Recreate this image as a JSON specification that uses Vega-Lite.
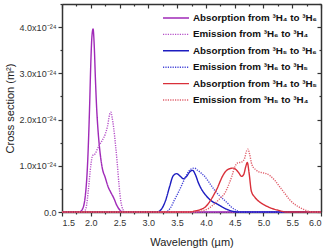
{
  "$schema": "https://vega.github.io/schema/vega-lite/v6.json",
  "width": 259,
  "height": 208,
  "padding": {"left": 62, "top": 4, "right": 5, "bottom": 38},
  "autosize": {"type": "none"},
  "background": "white",
  "config": {
    "font": "Liberation Sans",
    "view": {"stroke": null},
    "axis": {"domainColor": "#333333", "domainWidth": 1.5, "tickColor": "#333333", "tickWidth": 1.2, "labelColor": "#333333", "labelFontSize": 9, "titleColor": "#222222", "titleFontSize": 11, "titleFontWeight": "normal", "gridColor": "#e6e6e6", "gridWidth": 0.8}
  },
  "data": {"values": [
    {"series": "Absorption from ³H₄ to ³H₆", "x": 1.5, "y": 0},
    {"series": "Absorption from ³H₄ to ³H₆", "x": 1.8, "y": 0},
    {"series": "Absorption from ³H₄ to ³H₆", "x": 1.85, "y": 0.05},
    {"series": "Absorption from ³H₄ to ³H₆", "x": 1.9, "y": 0.3},
    {"series": "Absorption from ³H₄ to ³H₆", "x": 1.95, "y": 1.2},
    {"series": "Absorption from ³H₄ to ³H₆", "x": 1.98, "y": 2.3},
    {"series": "Absorption from ³H₄ to ³H₆", "x": 2.0, "y": 3.2},
    {"series": "Absorption from ³H₄ to ³H₆", "x": 2.02, "y": 3.8},
    {"series": "Absorption from ³H₄ to ³H₆", "x": 2.04, "y": 3.96},
    {"series": "Absorption from ³H₄ to ³H₆", "x": 2.06, "y": 3.6},
    {"series": "Absorption from ³H₄ to ³H₆", "x": 2.08, "y": 2.9},
    {"series": "Absorption from ³H₄ to ³H₆", "x": 2.1, "y": 2.3},
    {"series": "Absorption from ³H₄ to ³H₆", "x": 2.13, "y": 1.7},
    {"series": "Absorption from ³H₄ to ³H₆", "x": 2.16, "y": 1.3},
    {"series": "Absorption from ³H₄ to ³H₆", "x": 2.2, "y": 0.95},
    {"series": "Absorption from ³H₄ to ³H₆", "x": 2.25, "y": 0.75},
    {"series": "Absorption from ³H₄ to ³H₆", "x": 2.3, "y": 0.55},
    {"series": "Absorption from ³H₄ to ³H₆", "x": 2.35, "y": 0.42},
    {"series": "Absorption from ³H₄ to ³H₆", "x": 2.4, "y": 0.3},
    {"series": "Absorption from ³H₄ to ³H₆", "x": 2.45, "y": 0.15},
    {"series": "Absorption from ³H₄ to ³H₆", "x": 2.5, "y": 0.05},
    {"series": "Absorption from ³H₄ to ³H₆", "x": 2.55, "y": 0},
    {"series": "Absorption from ³H₄ to ³H₆", "x": 6.0, "y": 0},

    {"series": "Emission from ³H₆ to ³H₄", "x": 1.5, "y": 0},
    {"series": "Emission from ³H₆ to ³H₄", "x": 1.88, "y": 0},
    {"series": "Emission from ³H₆ to ³H₄", "x": 1.92, "y": 0.1},
    {"series": "Emission from ³H₆ to ³H₄", "x": 1.96, "y": 0.5},
    {"series": "Emission from ³H₆ to ³H₄", "x": 2.0, "y": 1.0},
    {"series": "Emission from ³H₆ to ³H₄", "x": 2.03, "y": 1.22},
    {"series": "Emission from ³H₆ to ³H₄", "x": 2.07, "y": 1.25},
    {"series": "Emission from ³H₆ to ³H₄", "x": 2.11, "y": 1.35},
    {"series": "Emission from ³H₆ to ³H₄", "x": 2.15, "y": 1.45},
    {"series": "Emission from ³H₆ to ³H₄", "x": 2.2, "y": 1.55},
    {"series": "Emission from ³H₆ to ³H₄", "x": 2.25, "y": 1.68},
    {"series": "Emission from ³H₆ to ³H₄", "x": 2.29, "y": 1.85},
    {"series": "Emission from ³H₆ to ³H₄", "x": 2.33, "y": 2.12},
    {"series": "Emission from ³H₆ to ³H₄", "x": 2.35, "y": 2.16},
    {"series": "Emission from ³H₆ to ³H₄", "x": 2.37, "y": 2.05},
    {"series": "Emission from ³H₆ to ³H₄", "x": 2.4, "y": 1.8},
    {"series": "Emission from ³H₆ to ³H₄", "x": 2.43, "y": 1.45},
    {"series": "Emission from ³H₆ to ³H₄", "x": 2.46, "y": 1.05},
    {"series": "Emission from ³H₆ to ³H₄", "x": 2.49, "y": 0.6},
    {"series": "Emission from ³H₆ to ³H₄", "x": 2.52, "y": 0.25},
    {"series": "Emission from ³H₆ to ³H₄", "x": 2.56, "y": 0.05},
    {"series": "Emission from ³H₆ to ³H₄", "x": 2.6, "y": 0},
    {"series": "Emission from ³H₆ to ³H₄", "x": 6.0, "y": 0},

    {"series": "Absorption from ³H₅ to ³H₆", "x": 1.5, "y": 0},
    {"series": "Absorption from ³H₅ to ³H₆", "x": 3.15, "y": 0},
    {"series": "Absorption from ³H₅ to ³H₆", "x": 3.22, "y": 0.05},
    {"series": "Absorption from ³H₅ to ³H₆", "x": 3.3, "y": 0.25},
    {"series": "Absorption from ³H₅ to ³H₆", "x": 3.37, "y": 0.55},
    {"series": "Absorption from ³H₅ to ³H₆", "x": 3.43, "y": 0.78},
    {"series": "Absorption from ³H₅ to ³H₆", "x": 3.49, "y": 0.83},
    {"series": "Absorption from ³H₅ to ³H₆", "x": 3.55, "y": 0.78},
    {"series": "Absorption from ³H₅ to ³H₆", "x": 3.61, "y": 0.72},
    {"series": "Absorption from ³H₅ to ³H₆", "x": 3.67, "y": 0.78},
    {"series": "Absorption from ³H₅ to ³H₆", "x": 3.72, "y": 0.87},
    {"series": "Absorption from ³H₅ to ³H₆", "x": 3.77, "y": 0.9},
    {"series": "Absorption from ³H₅ to ³H₆", "x": 3.82, "y": 0.8},
    {"series": "Absorption from ³H₅ to ³H₆", "x": 3.87, "y": 0.63},
    {"series": "Absorption from ³H₅ to ³H₆", "x": 3.93, "y": 0.48},
    {"series": "Absorption from ³H₅ to ³H₆", "x": 4.0, "y": 0.36},
    {"series": "Absorption from ³H₅ to ³H₆", "x": 4.05, "y": 0.29},
    {"series": "Absorption from ³H₅ to ³H₆", "x": 4.12, "y": 0.22},
    {"series": "Absorption from ³H₅ to ³H₆", "x": 4.2, "y": 0.17},
    {"series": "Absorption from ³H₅ to ³H₆", "x": 4.28, "y": 0.11},
    {"series": "Absorption from ³H₅ to ³H₆", "x": 4.36, "y": 0.06},
    {"series": "Absorption from ³H₅ to ³H₆", "x": 4.45, "y": 0.02},
    {"series": "Absorption from ³H₅ to ³H₆", "x": 4.55, "y": 0},
    {"series": "Absorption from ³H₅ to ³H₆", "x": 6.0, "y": 0},

    {"series": "Emission from ³H₆ to ³H₅", "x": 1.5, "y": 0},
    {"series": "Emission from ³H₆ to ³H₅", "x": 3.3, "y": 0},
    {"series": "Emission from ³H₆ to ³H₅", "x": 3.38, "y": 0.08},
    {"series": "Emission from ³H₆ to ³H₅", "x": 3.45, "y": 0.25},
    {"series": "Emission from ³H₆ to ³H₅", "x": 3.52, "y": 0.42},
    {"series": "Emission from ³H₆ to ³H₅", "x": 3.58, "y": 0.58},
    {"series": "Emission from ³H₆ to ³H₅", "x": 3.64, "y": 0.74},
    {"series": "Emission from ³H₆ to ³H₅", "x": 3.7, "y": 0.88},
    {"series": "Emission from ³H₆ to ³H₅", "x": 3.76, "y": 0.94},
    {"series": "Emission from ³H₆ to ³H₅", "x": 3.8, "y": 0.95},
    {"series": "Emission from ³H₆ to ³H₅", "x": 3.86, "y": 0.9},
    {"series": "Emission from ³H₆ to ³H₅", "x": 3.92, "y": 0.84},
    {"series": "Emission from ³H₆ to ³H₅", "x": 3.98, "y": 0.77},
    {"series": "Emission from ³H₆ to ³H₅", "x": 4.05, "y": 0.65},
    {"series": "Emission from ³H₆ to ³H₅", "x": 4.1, "y": 0.56},
    {"series": "Emission from ³H₆ to ³H₅", "x": 4.16, "y": 0.46},
    {"series": "Emission from ³H₆ to ³H₅", "x": 4.23, "y": 0.36},
    {"series": "Emission from ³H₆ to ³H₅", "x": 4.3, "y": 0.28},
    {"series": "Emission from ³H₆ to ³H₅", "x": 4.37, "y": 0.2},
    {"series": "Emission from ³H₆ to ³H₅", "x": 4.44, "y": 0.11},
    {"series": "Emission from ³H₆ to ³H₅", "x": 4.52, "y": 0.04},
    {"series": "Emission from ³H₆ to ³H₅", "x": 4.6, "y": 0},
    {"series": "Emission from ³H₆ to ³H₅", "x": 6.0, "y": 0},

    {"series": "Absorption from ³H₄ to ³H₅", "x": 1.5, "y": 0},
    {"series": "Absorption from ³H₄ to ³H₅", "x": 3.7, "y": 0},
    {"series": "Absorption from ³H₄ to ³H₅", "x": 3.8, "y": 0.02},
    {"series": "Absorption from ³H₄ to ³H₅", "x": 3.9, "y": 0.05},
    {"series": "Absorption from ³H₄ to ³H₅", "x": 4.0, "y": 0.12},
    {"series": "Absorption from ³H₄ to ³H₅", "x": 4.08, "y": 0.25},
    {"series": "Absorption from ³H₄ to ³H₅", "x": 4.15, "y": 0.4},
    {"series": "Absorption from ³H₄ to ³H₅", "x": 4.2, "y": 0.52},
    {"series": "Absorption from ³H₄ to ³H₅", "x": 4.25, "y": 0.67},
    {"series": "Absorption from ³H₄ to ³H₅", "x": 4.3, "y": 0.8},
    {"series": "Absorption from ³H₄ to ³H₅", "x": 4.36, "y": 0.9},
    {"series": "Absorption from ³H₄ to ³H₅", "x": 4.42, "y": 0.94},
    {"series": "Absorption from ³H₄ to ³H₅", "x": 4.47, "y": 0.95},
    {"series": "Absorption from ³H₄ to ³H₅", "x": 4.52, "y": 0.92},
    {"series": "Absorption from ³H₄ to ³H₅", "x": 4.57, "y": 0.85},
    {"series": "Absorption from ³H₄ to ³H₅", "x": 4.62, "y": 0.77},
    {"series": "Absorption from ³H₄ to ³H₅", "x": 4.66, "y": 0.82},
    {"series": "Absorption from ³H₄ to ³H₅", "x": 4.69, "y": 0.97},
    {"series": "Absorption from ³H₄ to ³H₅", "x": 4.72, "y": 1.07},
    {"series": "Absorption from ³H₄ to ³H₅", "x": 4.75, "y": 0.85},
    {"series": "Absorption from ³H₄ to ³H₅", "x": 4.79, "y": 0.45},
    {"series": "Absorption from ³H₄ to ³H₅", "x": 4.85, "y": 0.32},
    {"series": "Absorption from ³H₄ to ³H₅", "x": 4.93, "y": 0.22},
    {"series": "Absorption from ³H₄ to ³H₅", "x": 5.02, "y": 0.15},
    {"series": "Absorption from ³H₄ to ³H₅", "x": 5.12, "y": 0.09},
    {"series": "Absorption from ³H₄ to ³H₅", "x": 5.25, "y": 0.04},
    {"series": "Absorption from ³H₄ to ³H₅", "x": 5.4, "y": 0},
    {"series": "Absorption from ³H₄ to ³H₅", "x": 6.0, "y": 0},

    {"series": "Emission from ³H₅ to ³H₄", "x": 1.5, "y": 0},
    {"series": "Emission from ³H₅ to ³H₄", "x": 3.8, "y": 0},
    {"series": "Emission from ³H₅ to ³H₄", "x": 3.95, "y": 0.03},
    {"series": "Emission from ³H₅ to ³H₄", "x": 4.05, "y": 0.08},
    {"series": "Emission from ³H₅ to ³H₄", "x": 4.15, "y": 0.18},
    {"series": "Emission from ³H₅ to ³H₄", "x": 4.25, "y": 0.3},
    {"series": "Emission from ³H₅ to ³H₄", "x": 4.33, "y": 0.41},
    {"series": "Emission from ³H₅ to ³H₄", "x": 4.4, "y": 0.6},
    {"series": "Emission from ³H₅ to ³H₄", "x": 4.45, "y": 0.77},
    {"series": "Emission from ³H₅ to ³H₄", "x": 4.5, "y": 0.97},
    {"series": "Emission from ³H₅ to ³H₄", "x": 4.55, "y": 1.06},
    {"series": "Emission from ³H₅ to ³H₄", "x": 4.62, "y": 1.08},
    {"series": "Emission from ³H₅ to ³H₄", "x": 4.67, "y": 1.15},
    {"series": "Emission from ³H₅ to ³H₄", "x": 4.71, "y": 1.33},
    {"series": "Emission from ³H₅ to ³H₄", "x": 4.73, "y": 1.36},
    {"series": "Emission from ³H₅ to ³H₄", "x": 4.76, "y": 1.25},
    {"series": "Emission from ³H₅ to ³H₄", "x": 4.8, "y": 1.02},
    {"series": "Emission from ³H₅ to ³H₄", "x": 4.86, "y": 0.92},
    {"series": "Emission from ³H₅ to ³H₄", "x": 4.92, "y": 0.87},
    {"series": "Emission from ³H₅ to ³H₄", "x": 4.98, "y": 0.85},
    {"series": "Emission from ³H₅ to ³H₄", "x": 5.05, "y": 0.83},
    {"series": "Emission from ³H₅ to ³H₄", "x": 5.12, "y": 0.78},
    {"series": "Emission from ³H₅ to ³H₄", "x": 5.2, "y": 0.68},
    {"series": "Emission from ³H₅ to ³H₄", "x": 5.28, "y": 0.55},
    {"series": "Emission from ³H₅ to ³H₄", "x": 5.36, "y": 0.42},
    {"series": "Emission from ³H₅ to ³H₄", "x": 5.46, "y": 0.26},
    {"series": "Emission from ³H₅ to ³H₄", "x": 5.56, "y": 0.15},
    {"series": "Emission from ³H₅ to ³H₄", "x": 5.66, "y": 0.08},
    {"series": "Emission from ³H₅ to ³H₄", "x": 5.75, "y": 0.03},
    {"series": "Emission from ³H₅ to ³H₄", "x": 5.85, "y": 0},
    {"series": "Emission from ³H₅ to ³H₄", "x": 6.0, "y": 0}
  ]},
  "layer": [
    {
      "mark": {"type": "point", "opacity": 0},
      "encoding": {
        "x": {"field": "x", "type": "quantitative", "scale": {"domain": [1.5, 6.0], "nice": false},
          "axis": {"orient": "top", "values": [1.5,1.75,2,2.25,2.5,2.75,3,3.25,3.5,3.75,4,4.25,4.5,4.75,5,5.25,5.5,5.75,6], "labels": false, "title": null, "grid": false, "tickSize": {"condition": {"test": "abs(datum.value*2 - round(datum.value*2)) < 0.01", "value": -4}, "value": -2}}},
        "y": {"field": "y", "type": "quantitative", "scale": {"domain": [0, 4.5], "nice": false},
          "axis": {"orient": "right", "values": [0,0.5,1,1.5,2,2.5,3,3.5,4,4.5], "labels": false, "title": null, "grid": false, "tickSize": {"condition": {"test": "abs(datum.value - round(datum.value)) < 0.01", "value": -4}, "value": -2}}}
      }
    },
    {
      "mark": {"type": "line", "strokeWidth": 1.4, "interpolate": "monotone"},
      "encoding": {
        "x": {"field": "x", "type": "quantitative", "scale": {"domain": [1.5, 6.0], "nice": false},
          "axis": {"orient": "bottom", "title": "Wavelength (µm)", "titlePadding": 9, "values": [1.5,1.75,2,2.25,2.5,2.75,3,3.25,3.5,3.75,4,4.25,4.5,4.75,5,5.25,5.5,5.75,6],
            "labelExpr": "abs(datum.value*2 - round(datum.value*2)) < 0.01 ? format(datum.value, '.1f') : ''",
            "tickSize": {"condition": {"test": "abs(datum.value*2 - round(datum.value*2)) < 0.01", "value": 4}, "value": 2},
            "gridOpacity": {"condition": {"test": "abs(datum.value*2 - round(datum.value*2)) < 0.01", "value": 1}, "value": 0},
            "labelPadding": 2}},
        "y": {"field": "y", "type": "quantitative", "scale": {"domain": [0, 4.5], "nice": false},
          "axis": {"orient": "left", "title": "Cross section (m²)", "titlePadding": 4, "values": [0,0.5,1,1.5,2,2.5,3,3.5,4,4.5],
            "labelExpr": "datum.value == 0 ? '0.0' : (abs(datum.value - round(datum.value)) < 0.01 ? format(datum.value, '.1f') + 'x10⁻²⁴' : '')",
            "tickSize": {"condition": {"test": "abs(datum.value - round(datum.value)) < 0.01", "value": 4}, "value": 2},
            "labelPadding": 2}},
        "color": {"field": "series", "type": "nominal",
          "scale": {"domain": ["Absorption from ³H₄ to ³H₆", "Emission from ³H₆ to ³H₄", "Absorption from ³H₅ to ³H₆", "Emission from ³H₆ to ³H₅", "Absorption from ³H₄ to ³H₅", "Emission from ³H₅ to ³H₄"],
            "range": ["#a02ab8", "#b550c8", "#1c1cc0", "#4545d8", "#d9303a", "#e0606c"]},
          "legend": {"title": null, "orient": "none", "legendX": 100, "legendY": 8, "symbolType": "stroke", "symbolSize": 676, "symbolStrokeWidth": 1.4, "clipHeight": 12, "labelFontSize": 9.8, "labelFontWeight": "bold", "labelColor": "#111111", "rowPadding": 4.4, "labelOffset": 3, "labelLimit": 200}},
        "strokeDash": {"field": "series", "type": "nominal",
          "scale": {"domain": ["Absorption from ³H₄ to ³H₆", "Emission from ³H₆ to ³H₄", "Absorption from ³H₅ to ³H₆", "Emission from ³H₆ to ³H₅", "Absorption from ³H₄ to ³H₅", "Emission from ³H₅ to ³H₄"],
            "range": [[1, 0], [1.2, 1.2], [1, 0], [1.2, 1.2], [1, 0], [1.2, 1.2]]},
          "legend": {"title": null, "orient": "none", "legendX": 100, "legendY": 8, "symbolType": "stroke", "symbolSize": 676, "symbolStrokeWidth": 1.4, "clipHeight": 12, "labelFontSize": 9.8, "labelFontWeight": "bold", "labelColor": "#111111", "rowPadding": 4.4, "labelOffset": 3, "labelLimit": 200}}
      }
    }
  ],
  "resolve": {"axis": {"x": "independent", "y": "independent"}}
}
